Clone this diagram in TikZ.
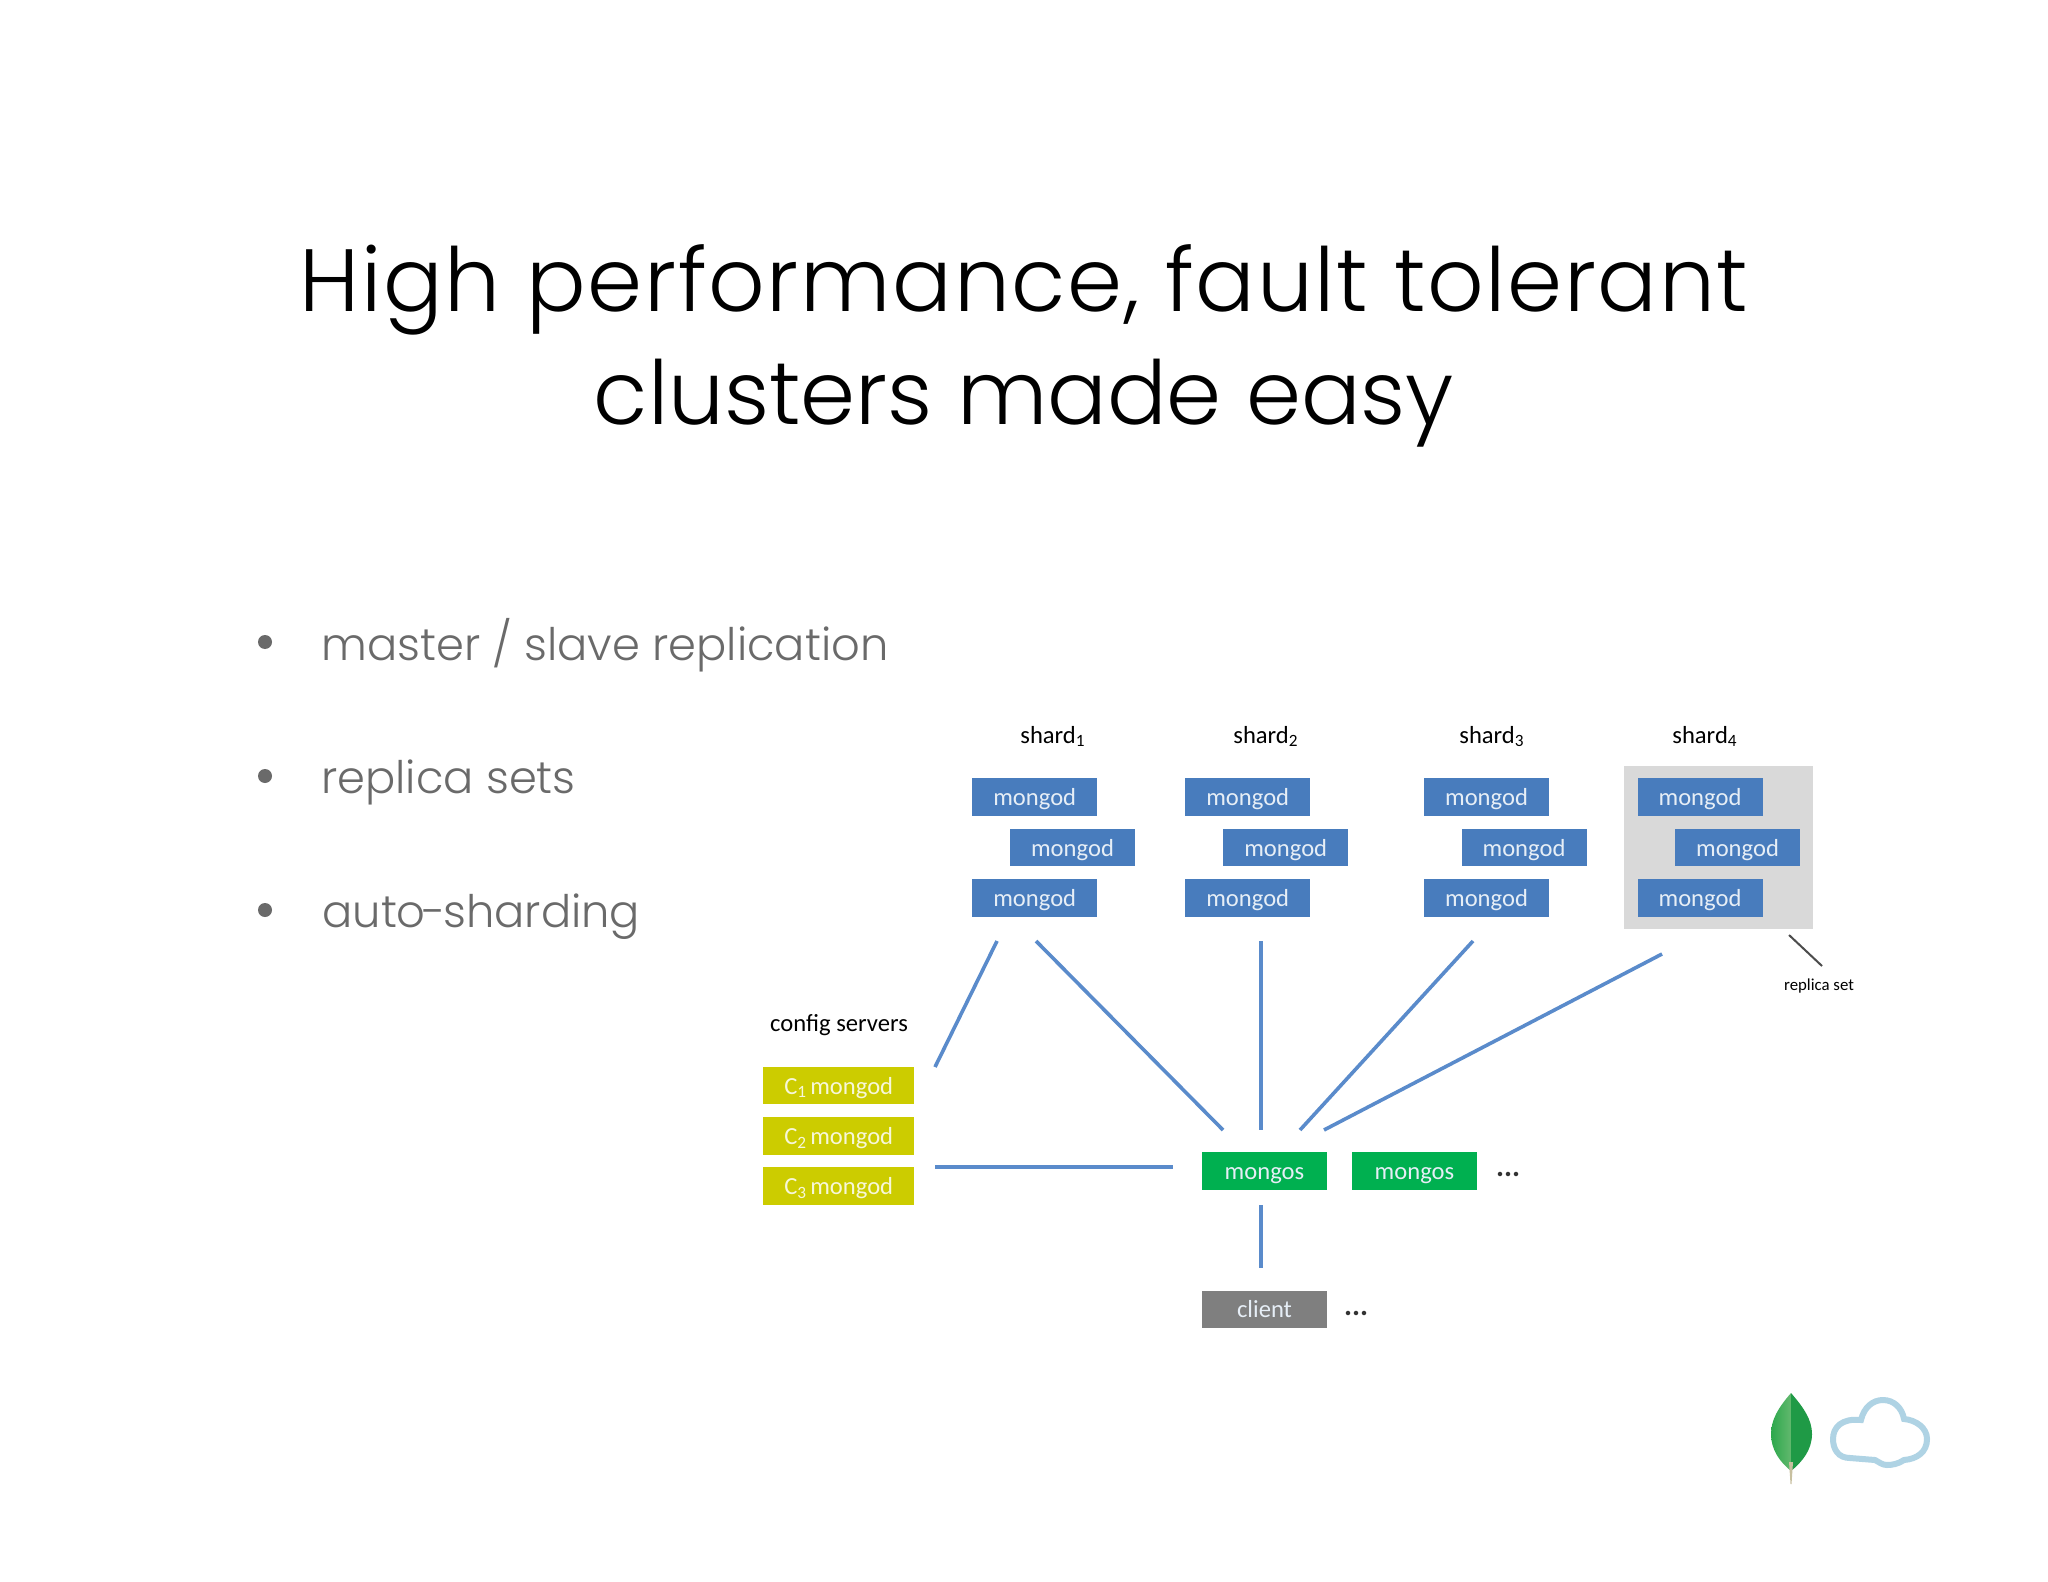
\documentclass[tikz,border=0pt]{standalone}
\usepackage{fontspec}
\setmainfont{Carlito}
\newfontfamily\gothic{Poppins Light}
\newfontfamily\gothicwide{Poppins Light}[LetterSpace=1.9]
\definecolor{mgblue}{HTML}{487CBD}
\definecolor{mgline}{HTML}{5A8BCB}
\definecolor{mggreen}{HTML}{00B050}
\definecolor{mgyellow}{HTML}{CCCC00}
\definecolor{mggrey}{HTML}{7F7F7F}
\definecolor{mgpanel}{HTML}{D9D9D9}
\definecolor{mgbody}{HTML}{6A6A6A}
\definecolor{mgcloud}{HTML}{AFD3E4}
\definecolor{mgtext}{HTML}{E6EEF6}
\definecolor{leafdark}{HTML}{1F9A46}
\definecolor{leafedge}{HTML}{2CA84C}
\definecolor{leaflight}{HTML}{62B86E}
\definecolor{leafstem}{HTML}{C8C0A0}
\tikzset{
  box/.style={rectangle,inner sep=0pt,minimum width=62.5pt,minimum height=18.75pt,text height=8.5pt,text depth=0pt,text=mgtext,font=\fontsize{12.3}{14}\selectfont},
  mongod/.style={box,fill=mgblue},
  mongos/.style={box,fill=mggreen},
  config/.style={box,fill=mgyellow,minimum width=75.4pt,text=white!85!mgyellow},
  client/.style={box,fill=mggrey,text height=7.5pt},
  label/.style={inner sep=0pt,anchor=base,font=\fontsize{12.3}{14}\selectfont},
  dots/.style={inner sep=0pt,anchor=base,text=black!80,font=\fontsize{15}{16}\selectfont\bfseries},
  link/.style={draw=mgline,line width=1.8pt},
  item/.style={inner sep=0pt,anchor=base west,text=mgbody,font=\gothic\fontsize{22.4}{26}\selectfont},
  bullet/.style={circle,fill=mgbody,inner sep=0pt,minimum size=7pt},
  headline/.style={inner sep=0pt,anchor=base,font=\gothic\fontsize{44.2}{50}\selectfont}
}
\begin{document}
\begin{tikzpicture}[x=0.5pt,y=-0.5pt]
  \useasboundingbox (0,0) rectangle (2048,1582);
  \fill[white] (0,0) rectangle (2048,1582);

  % title
  \node[headline,font=\gothicwide\fontsize{44.2}{50}\selectfont] (title1) at (1024,312) {High performance, fault tolerant};
  \node[headline] (title2) at (1024,425) {clusters made easy};

  % bullet list
  \node[bullet] (b1) at (265,642) {};
  \node[bullet] (b2) at (265,776) {};
  \node[bullet] (b3) at (265,910) {};
  \node[item] (t1) at (321,660) {master / slave replication};
  \node[item] (t2) at (321,793) {replica sets};
  \node[item] (t3) at (322,927) {auto\kern-1.4pt-\kern-1.4pt sharding};

  % shard labels
  \node[label] (s1) at (1053,743) {shard\textsubscript{1}};
  \node[label] (s2) at (1266,743) {shard\textsubscript{2}};
  \node[label] (s3) at (1492,743) {shard\textsubscript{3}};
  \node[label] (s4) at (1705,743) {shard\textsubscript{4}};

  % replica set panel
  \node[fill=mgpanel,inner sep=0pt,minimum width=94.5pt,minimum height=81.5pt] (panel) at (1718.5,847.5) {};

  % shards
  \node[mongod] (a1) at (1034.7,797) {mongod};
  \node[mongod] (a2) at (1072.5,847.5) {mongod};
  \node[mongod] (a3) at (1034.7,898) {mongod};
  \node[mongod] (b1m) at (1247.7,797) {mongod};
  \node[mongod] (b2m) at (1285.7,847.5) {mongod};
  \node[mongod] (b3m) at (1247.7,898) {mongod};
  \node[mongod] (c1) at (1486.5,797) {mongod};
  \node[mongod] (c2) at (1524,847.5) {mongod};
  \node[mongod] (c3) at (1486.5,898) {mongod};
  \node[mongod] (d1) at (1700,797) {mongod};
  \node[mongod] (d2) at (1737.5,847.5) {mongod};
  \node[mongod] (d3) at (1700,898) {mongod};

  % config servers
  \node[label] (cfg) at (839,1031.5) {config servers};
  \node[config] (c1m) at (838.7,1085.7) {C\textsubscript{1}\kern-1.2pt{} mongod};
  \node[config] (c2m) at (838.7,1136) {C\textsubscript{2}\kern-1.2pt{} mongod};
  \node[config] (c3m) at (838.7,1186) {C\textsubscript{3}\kern-1.2pt{} mongod};

  % routers and client
  \node[mongos] (r1) at (1264.5,1171) {mongos};
  \node[mongos] (r2) at (1414.5,1171) {mongos};
  \node[dots] (rdots) at (1508,1176) {...};
  \node[client] (cl) at (1264.5,1309.5) {client};
  \node[dots] (cdots) at (1356,1315.5) {...};

  % free ends of the connectors
  \coordinate (p1) at (997,941);
  \coordinate (p2) at (935,1067);
  \coordinate (p3) at (1036,941);
  \coordinate (p4) at (1223,1130);
  \coordinate (p5) at (1261,941);
  \coordinate (p6) at (1261,1130);
  \coordinate (p7) at (1473,941);
  \coordinate (p8) at (1300,1130);
  \coordinate (p9) at (1662,954);
  \coordinate (p10) at (1324,1130);
  \coordinate (p11) at (935,1167);
  \coordinate (p12) at (1173,1167);
  \coordinate (p13) at (1261,1205);
  \coordinate (p14) at (1261,1268);
  \coordinate (p15) at (1789,935);
  \coordinate (p16) at (1822,966);

  \draw[link] (p1) -- (p2);
  \draw[link] (p3) -- (p4);
  \draw[link] (p5) -- (p6);
  \draw[link] (p7) -- (p8);
  \draw[link] (p9) -- (p10);
  \draw[link,line width=2pt] (p11) -- (p12);
  \draw[link] (p13) -- (p14);
  \draw[line width=1pt,draw=black!70] (p15) -- (p16);
  \node[label,font=\fontsize{8.4}{10}\selectfont] (rs) at (1819,990) {replica set};

  % leaf
  \shade[left color=leafedge,right color=leaflight]
    (1791,1393) .. controls (1778,1408) and (1771,1420) .. (1771,1434)
    .. controls (1771,1450) and (1780,1462) .. (1791,1471) -- cycle;
  \fill[leafdark]
    (1791,1393) .. controls (1804,1408) and (1812,1420) .. (1812,1434)
    .. controls (1812,1450) and (1802,1462) .. (1791,1471) -- cycle;
  \fill[leafstem] (1789,1462) -- (1793,1462) -- (1791.5,1484) -- (1790.5,1484) -- cycle;

  % cloud
  \draw[mgcloud,line width=3pt]
    (1850,1458) .. controls (1838,1458) and (1833,1449) .. (1833,1439)
    .. controls (1833,1427) and (1842,1418) .. (1861,1420)
    .. controls (1864,1407) and (1873,1400) .. (1883,1400)
    .. controls (1894,1400) and (1902,1408) .. (1904,1419)
    .. controls (1916,1420) and (1927,1428) .. (1927,1439)
    .. controls (1927,1452) and (1917,1459) .. (1904,1460)
    .. controls (1898,1464) and (1892,1465) .. (1887,1465)
    .. controls (1882,1465) and (1879,1462) .. (1875,1460) -- cycle;
\end{tikzpicture}
\end{document}
